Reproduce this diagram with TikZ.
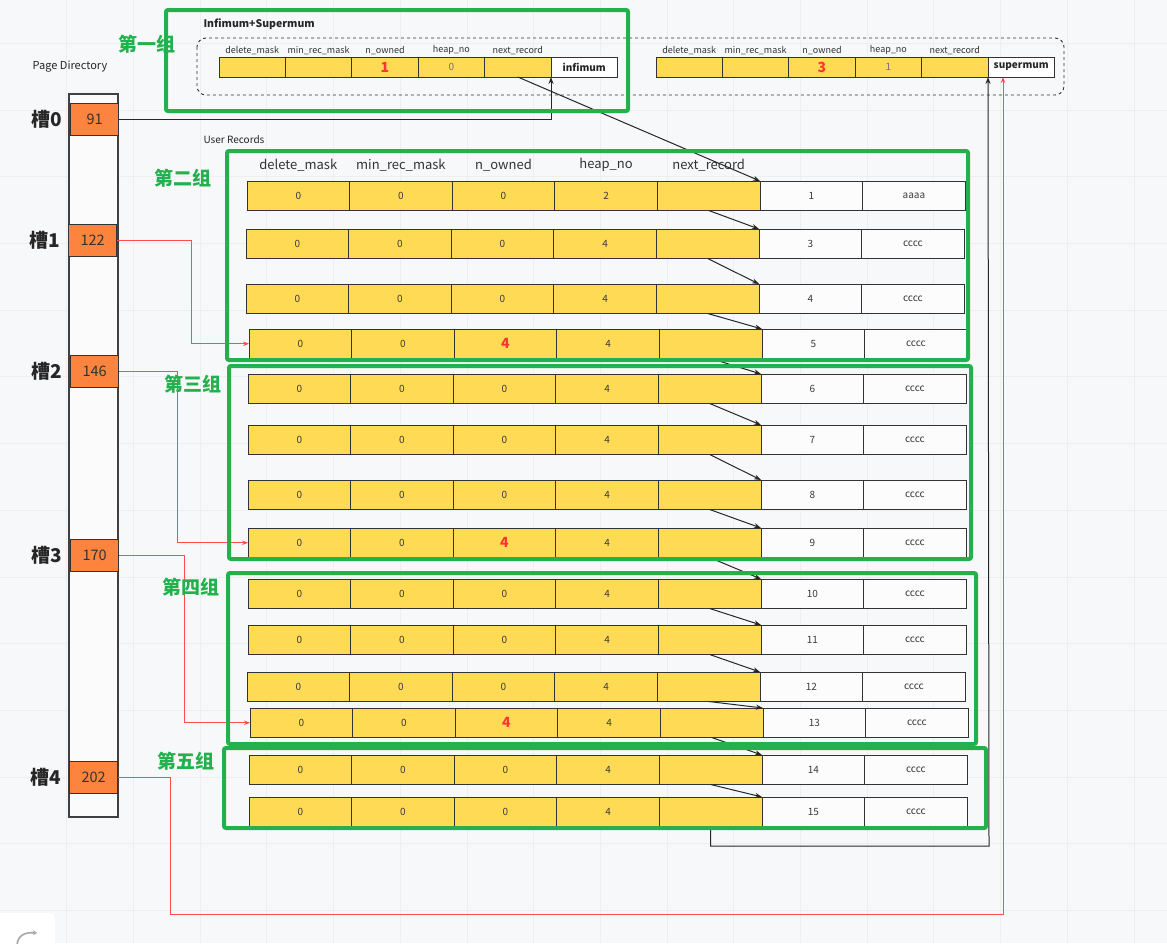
\documentclass[tikz,border=0pt]{standalone}
\usepackage{fontspec}
\setmainfont{Noto Sans CJK SC}
\usepackage{xcolor}
\usepackage{tikz}
\usetikzlibrary{arrows.meta, positioning, calc}

\definecolor{pagebg}{HTML}{F7F8FA}
\definecolor{gridc}{HTML}{ECEEF1}
\definecolor{recyellow}{HTML}{FFDA55}
\definecolor{slotorange}{HTML}{FC843E}
\definecolor{grpgreen}{HTML}{22B14C}
\definecolor{ptrred}{HTML}{FF4D4D}
\definecolor{ownred}{HTML}{FF3535}
\definecolor{celltext}{HTML}{3A3A3A}

\newcommand{\redown}[1]{{\color{ownred}\fontsize{14}{14}\selectfont\bfseries #1}}

\begin{document}
\begin{tikzpicture}[x=1pt, y=-1pt,
    % yellow header cells of a record
    ycell/.style={rectangle, draw=black!80, line width=1pt, fill=recyellow,
                  minimum width=102.6pt, minimum height=29.5pt, inner sep=0pt,
                  outer sep=0pt, font=\fontsize{10}{10}\selectfont, text=celltext},
    % white data cells
    wcell/.style={ycell, fill=white!60!pagebg},
    % small cells of infimum / supremum
    scell/.style={ycell, minimum width=66.4pt, minimum height=20pt},
    sdata/.style={scell, fill=white, font=\fontsize{10}{10}\selectfont\bfseries, text=black!85},
    % column titles
    hdsmall/.style={font=\fontsize{9}{9}\selectfont, text=black!80, inner sep=1pt},
    hdbig/.style={font=\fontsize{13}{13}\selectfont, text=black!80, inner sep=0pt},
    % page directory
    pdcol/.style={rectangle, draw=black!75, line width=1.2pt, fill=white!50!pagebg,
                  inner sep=0pt, outer sep=0pt},
    slot/.style={rectangle, draw=black!80, line width=1.2pt, fill=slotorange,
                 minimum width=48pt, minimum height=32pt, inner sep=0pt,
                 font=\fontsize{14.5}{14.5}\selectfont, text=black!80},
    slotlabel/.style={font=\fontsize{19}{19}\selectfont\bfseries, text=black!85},
    % groups
    grp/.style={draw=grpgreen, line width=4pt, rounded corners=2pt},
    grplabel/.style={font=\fontsize{19}{19}\selectfont\bfseries, text=grpgreen},
    link/.style={-{Stealth[length=7pt, width=5pt]}, line width=1pt, black!85},
    redlink/.style={-{Stealth[length=6pt, width=4.5pt]}, line width=0.8pt, ptrred}
]
\useasboundingbox (0,0) rectangle (1167,943);

%-------- BACKGROUND --------
\fill[pagebg] (0,0) rectangle (1167,943);
\foreach \gx in {1,...,17}
    \draw[gridc, line width=0.8pt] ({66.7*\gx},0) -- ({66.7*\gx},943);
\foreach \gy in {0,...,13}
    \draw[gridc, line width=0.8pt] (0,{43.3+66.7*\gy}) -- (1167,{43.3+66.7*\gy});
\draw[white, fill=white, rounded corners=5pt] (-6,913) rectangle (55,950);
\draw[gray!70, line width=1.6pt, -{Stealth[length=4pt, width=5pt]}]
    (17,945) .. controls (18,935) and (25,932) .. (37,933);

%-------- PAGE DIRECTORY --------
\node[font=\fontsize{11}{11}\selectfont, text=black!85] (pdtitle) at (70,67) {Page Directory};
\node[pdcol, anchor=north west, minimum width=49pt, minimum height=723pt] (pdir) at (69,94) {};
\node[slot, anchor=north west] (slot0) at (70,103) {91};
\node[slot, anchor=north west] (slot1) at (68,224) {122};
\node[slot, anchor=north west] (slot2) at (70,355) {146};
\node[slot, anchor=north west] (slot3) at (70,539) {170};
\node[slot, anchor=north west] (slot4) at (69,761) {202};
\foreach \k in {0,...,4}
    \node[slotlabel, left=4pt of slot\k] (slotlab\k) {槽\k};

%-------- INFIMUM + SUPREMUM --------
\node[font=\fontsize{10.5}{10.5}\selectfont\bfseries, text=black!85, anchor=west]
    (infsup) at (200,24) {Infimum+Supermum};
\draw[dashed, line width=0.9pt, black!80, rounded corners=9pt] (197,38) rectangle (1064,95);

\node[scell, anchor=north west] (inf-1) at (219,57) {};
\node[scell, right=0pt of inf-1] (inf-2) {};
\node[scell, right=0pt of inf-2] (inf-3) {\redown{1}};
\node[scell, right=0pt of inf-3, text=black!55] (inf-4) {0};
\node[scell, right=0pt of inf-4] (inf-5) {};
\node[sdata, right=0pt of inf-5] (inf-6) {infimum};

\node[scell, anchor=north west] (sup-1) at (656,57) {};
\node[scell, right=0pt of sup-1] (sup-2) {};
\node[scell, right=0pt of sup-2] (sup-3) {\redown{3}};
\node[scell, right=0pt of sup-3, text=black!55] (sup-4) {1};
\node[scell, right=0pt of sup-4] (sup-5) {};
\node[sdata, right=0pt of sup-5] (sup-6) {supermum};

\foreach \k/\h in {1/delete\_mask, 2/min\_rec\_mask, 3/n\_owned, 4/heap\_no, 5/next\_record}{
    \node[hdsmall, above=1pt of inf-\k] (infh-\k) {\h};
    \node[hdsmall, above=1pt of sup-\k] (suph-\k) {\h};
}

%-------- USER RECORDS --------
\node[font=\fontsize{10}{10}\selectfont, text=black!85, anchor=west] (usrrec) at (200,140) {User Records};

\foreach \n/\yy/\xx/\own/\heap/\rid/\txt in {
    1/181/247/0/2/1/aaaa, 3/229/246/0/4/3/cccc, 4/284/246/0/4/4/cccc,
    5/329/249/\redown{4}/4/5/cccc, 6/374/248/0/4/6/cccc, 7/425/248/0/4/7/cccc,
    8/480/248/0/4/8/cccc, 9/528/248/\redown{4}/4/9/cccc, 10/579/248/0/4/10/cccc,
    11/625/248/0/4/11/cccc, 12/672/247/0/4/12/cccc, 13/708/250/\redown{4}/4/13/cccc,
    14/755/249/0/4/14/cccc, 15/797/249/0/4/15/cccc}{
    \node[ycell, anchor=north west] (r\n-1) at (\xx,\yy) {0};
    \node[ycell, right=0pt of r\n-1] (r\n-2) {0};
    \node[ycell, right=0pt of r\n-2] (r\n-3) {\own};
    \node[ycell, right=0pt of r\n-3] (r\n-4) {\heap};
    \node[ycell, right=0pt of r\n-4] (r\n-5) {};
    \node[wcell, right=0pt of r\n-5] (r\n-6) {\rid};
    \node[wcell, right=0pt of r\n-6] (r\n-7) {\txt};
}
\foreach \k/\h in {1/delete\_mask, 2/min\_rec\_mask, 3/n\_owned, 4/heap\_no, 5/next\_record}
    \node[hdbig, above=9pt of r1-\k] (rech-\k) {\h};

%-------- ARROWS: record chain --------
\draw[link] (inf-5.south) -- (r1-5.north east);
\foreach \a/\b in {1/3, 3/4, 4/5, 5/6, 6/7, 7/8, 8/9, 9/10, 10/11, 11/12, 12/13, 13/14, 14/15}
    \draw[link] (r\a-5.south) -- (r\b-5.north east);
\coordinate (loopend) at (989,846);
\draw[link] (r15-5.south) |- (loopend) -- (sup-6.south west);

%-------- ARROWS: slots --------
\draw[link] (slot0.east) -| (inf-6.south west);
\draw[redlink] (slot1.east) -- ++(74,0) |- (r5-1.west);
\draw[redlink] (slot2.east) -- ++(58,0) |- (r9-1.west);
\draw[redlink] (slot3.east) -- ++(65,0) |- (r13-1.west);
\coordinate (redbot) at (170,914);
\coordinate (supin) at ($(sup-6.south west)+(15,0)$);
\draw[redlink] (slot4.east) -| (redbot) -| (supin);

%-------- GROUPS --------
\draw[grp] (166,10) rectangle (628,111);
\draw[grp] (227,151) rectangle (968,360);
\draw[grp] (229,366) rectangle (971,559);
\draw[grp] (228,573) rectangle (976,744);
\draw[grp] (224,748) rectangle (986,828);
\node[grplabel] (g1) at (147,44) {第一组};
\node[grplabel] (g2) at (183,178) {第二组};
\node[grplabel] (g3) at (193,384) {第三组};
\node[grplabel] (g4) at (191,587) {第四组};
\node[grplabel] (g5) at (186,761) {第五组};

\end{tikzpicture}
\end{document}
